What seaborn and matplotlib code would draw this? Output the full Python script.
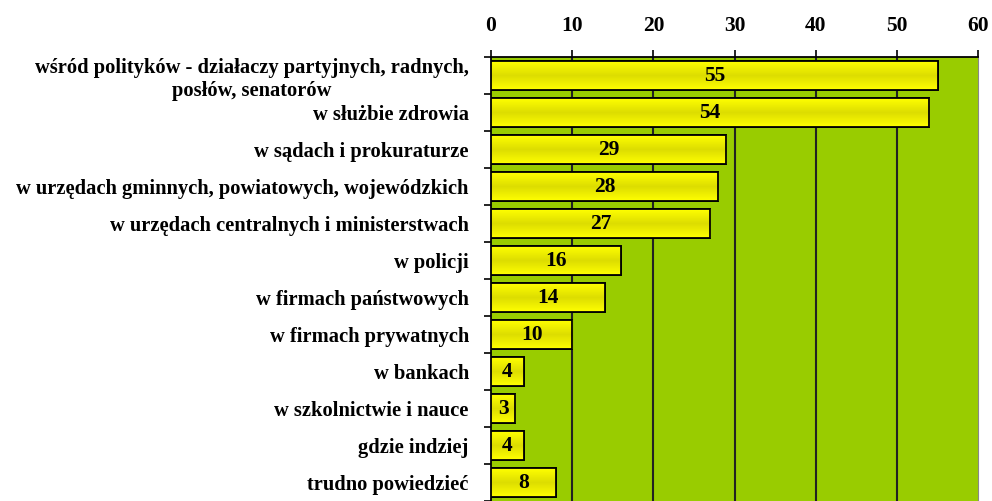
import matplotlib
matplotlib.use("Agg")
import matplotlib.pyplot as plt
import numpy as np
import pandas as pd
import seaborn as sns
from matplotlib.colors import LinearSegmentedColormap

categories = [
    "wśród polityków - działaczy partyjnych, radnych,\nposłów, senatorów",
    "w służbie zdrowia",
    "w sądach i prokuraturze",
    "w urzędach gminnych, powiatowych, wojewódzkich",
    "w urzędach centralnych i ministerstwach",
    "w policji",
    "w firmach państwowych",
    "w firmach prywatnych",
    "w bankach",
    "w szkolnictwie i nauce",
    "gdzie indziej",
    "trudno powiedzieć",
]
values = [55, 54, 29, 28, 27, 16, 14, 10, 4, 3, 4, 8]
x_ticks = [0, 10, 20, 30, 40, 50, 60]

df = pd.DataFrame({"kategoria": categories, "procent": values})

sns.set_style("white")
plt.rcParams["font.family"] = ["Liberation Serif", "DejaVu Serif"]
plt.rcParams["font.weight"] = "bold"
plt.rcParams["text.color"] = "black"
plt.rcParams["xtick.color"] = "black"
plt.rcParams["ytick.color"] = "black"

fig = plt.figure(figsize=(9.92, 5.01), dpi=100)
ax = fig.add_axes([0.495, 0.0, 0.491, 0.886])
ax.set_facecolor("#99cc00")

sns.barplot(data=df, x="procent", y="kategoria", orient="h", ax=ax,
            color="#eeee00", edgecolor="black", linewidth=1.3, width=0.78,
            saturation=1, zorder=3)

# gradient na słupkach (jaśniejsze brzegi, ciemniejszy środek)
grad_cmap = LinearSegmentedColormap.from_list("bar", ["#ffff00", "#dddd00", "#ffff00"])
grad = np.linspace(0, 1, 64).reshape(-1, 1)
for patch in ax.patches:
    x0, y0 = patch.get_x(), patch.get_y()
    w, h = patch.get_width(), patch.get_height()
    im = ax.imshow(grad, cmap=grad_cmap, aspect="auto", zorder=3.5,
                   extent=[x0, x0 + w, y0 + h, y0], interpolation="bilinear")
    im.set_clip_path(patch)
    edge = plt.Rectangle((x0, y0), w, h, fill=False, edgecolor="black",
                         linewidth=1.3, zorder=3.6)
    ax.add_patch(edge)

# liczby w środku słupków
for i, v in enumerate(values):
    ax.text(v / 2, i, str(v), ha="center", va="center", fontsize=15.5,
            fontweight="bold", zorder=4)

ax.set_xlim(0, 60)
ax.set_ylim(len(categories) - 0.5, -0.5)
ax.set_xticks(x_ticks)
ax.xaxis.tick_top()
ax.tick_params(axis="x", length=5, width=1.2, labelsize=15.5, pad=10.5)
for v in x_ticks[1:-1]:
    ax.axvline(v, color="#222222", linewidth=1.5, zorder=1)

# etykiety kategorii po lewej, kreski na granicach
ax.set_yticks(range(len(categories)))
ax.set_yticklabels(categories, fontsize=14.8, fontweight="bold",
                   multialignment="center")
ax.tick_params(axis="y", which="major", length=0, pad=16)
ax.set_yticks(np.arange(-0.5, len(categories), 1), minor=True)
ax.tick_params(axis="y", which="minor", left=True, length=5, width=1.2)

ax.set_xlabel("")
ax.set_ylabel("")
for s in ["left", "top"]:
    ax.spines[s].set_color("black")
    ax.spines[s].set_linewidth(1.3)
ax.spines["right"].set_color("#888888")
ax.spines["bottom"].set_visible(False)

fig.savefig("out.png", dpi=100)
